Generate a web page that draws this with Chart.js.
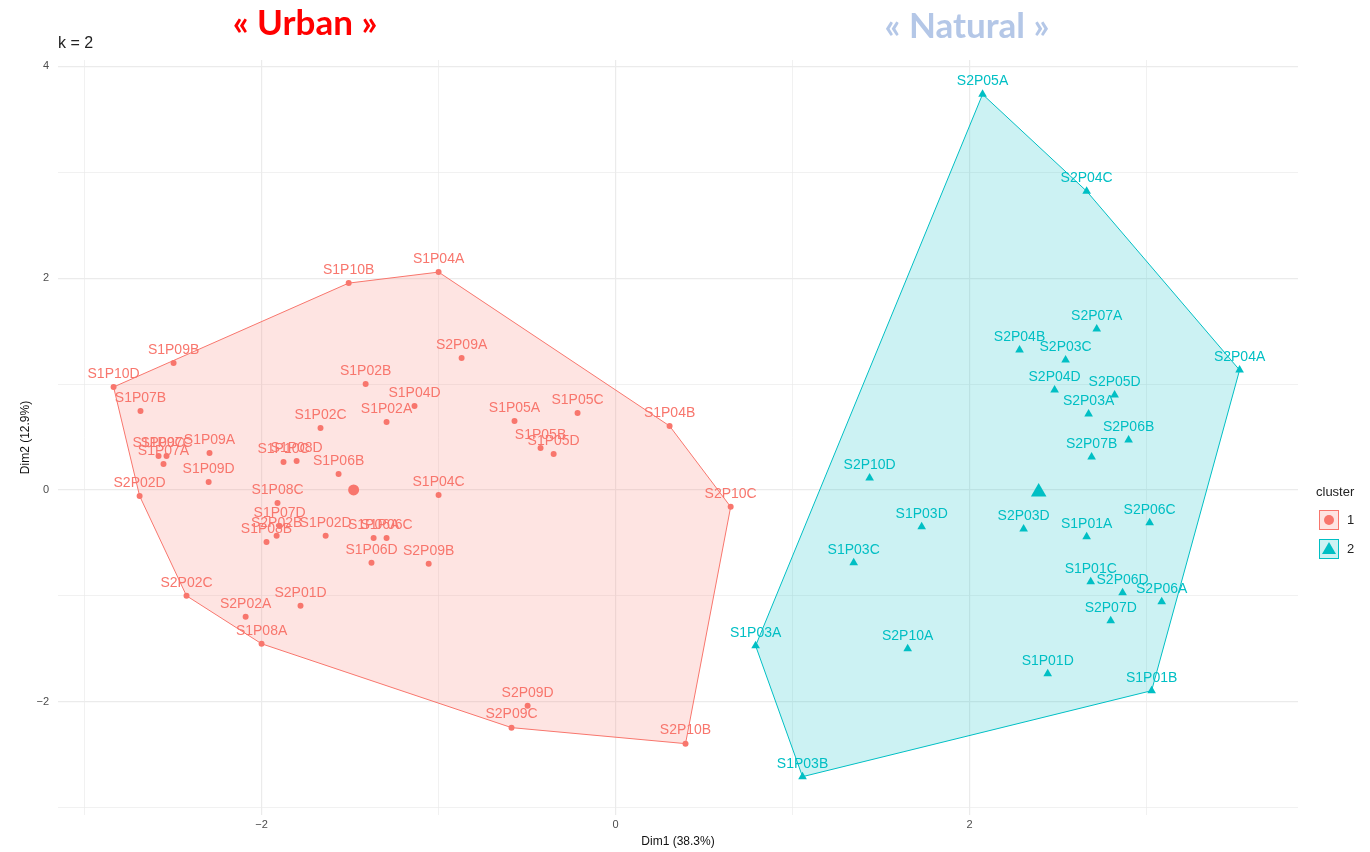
<!DOCTYPE html>
<html>
<head>
<meta charset="utf-8">
<script src="https://cdn.jsdelivr.net/npm/chart.js@4.4.1/dist/chart.umd.min.js"></script>
<style>
  html, body { margin: 0; padding: 0; background: #fff; }
</style>
</head>
<body>
<canvas id="myChart" width="1370" height="852"></canvas>
<script>
// clusters
const clusterNames = ['1', '2'];
const clusterColors = ['#F8766D', '#00BFC4'];
const clusterFills = ['rgba(248,118,109,0.2)', 'rgba(0,191,196,0.2)'];

// cluster 1 ("Urban")
const urbanLabels = ['S1P10D', 'S1P09B', 'S1P10B', 'S1P04A', 'S2P09A', 'S1P02B', 'S1P04D', 'S1P02A', 'S1P02C',
    'S1P05A', 'S1P05C', 'S1P05B', 'S1P05D', 'S1P04B', 'S2P10C', 'S1P07B', 'S1P09A', 'S1P09C', 'S1P07C',
    'S1P07A', 'S1P09D', 'S2P02D', 'S1P10C', 'S1P08D', 'S1P06B', 'S1P08C', 'S1P04C', 'S1P07D', 'S2P02B',
    'S1P08B', 'S1P02D', 'S1P06A', 'S1P06C', 'S1P06D', 'S2P09B', 'S2P02C', 'S2P02A', 'S2P01D', 'S1P08A',
    'S2P09D', 'S2P09C', 'S2P10B'];
const urbanX = [-2.836, -2.497, -1.508, -1.000, -0.870, -1.412, -1.136, -1.294, -1.667,
    -0.571, -0.215, -0.424, -0.350, 0.305, 0.650, -2.684, -2.294, -2.582, -2.537,
    -2.554, -2.299, -2.689, -1.876, -1.802, -1.565, -1.910, -1.000, -1.898, -1.915,
    -1.972, -1.638, -1.367, -1.294, -1.379, -1.056, -2.424, -2.090, -1.780, -2.000,
    -0.497, -0.588, 0.395];
const urbanY = [0.972, 1.198, 1.953, 2.057, 1.245, 1.000, 0.792, 0.642, 0.585,
    0.651, 0.726, 0.396, 0.340, 0.604, -0.160, 0.745, 0.349, 0.321, 0.321,
    0.245, 0.075, -0.057, 0.264, 0.274, 0.151, -0.123, -0.047, -0.340, -0.434,
    -0.491, -0.434, -0.453, -0.453, -0.689, -0.698, -1.000, -1.198, -1.094, -1.453,
    -2.038, -2.245, -2.396];

// cluster 2 ("Natural")
const naturalLabels = ['S2P05A', 'S2P04C', 'S2P04A', 'S2P07A', 'S2P03C', 'S2P04B', 'S2P04D', 'S2P05D', 'S2P03A',
    'S2P06B', 'S2P07B', 'S2P10D', 'S1P03D', 'S2P03D', 'S1P01A', 'S2P06C', 'S1P03C', 'S1P01C', 'S2P06D',
    'S2P06A', 'S2P07D', 'S1P03A', 'S2P10A', 'S1P01D', 'S1P01B', 'S1P03B'];
const naturalX = [2.073, 2.661, 3.525, 2.718, 2.542, 2.282, 2.480, 2.819, 2.672,
    2.898, 2.689, 1.435, 1.729, 2.305, 2.661, 3.017, 1.345, 2.684, 2.864,
    3.085, 2.797, 0.791, 1.650, 2.441, 3.028, 1.056];
const naturalY = [3.736, 2.821, 1.132, 1.519, 1.226, 1.321, 0.943, 0.896, 0.717,
    0.472, 0.311, 0.113, -0.349, -0.368, -0.443, -0.311, -0.689, -0.868, -0.972,
    -1.057, -1.236, -1.472, -1.500, -1.736, -1.896, -2.708];

// cluster centres
const centerX = [-1.48, 2.39];
const centerY = [0.0, -0.02];

// axes
const xLabelled = [-2, 0, 2];
const yLabelled = [-2, 0, 2, 4];

const toPoints = (xs, ys) => xs.map((x, i) => ({ x: x, y: ys[i] }));

const convexHull = (pts) => {
    const p = pts.slice().sort((a, b) => a.x - b.x || a.y - b.y);
    const cross = (o, a, b) => (a.x - o.x) * (b.y - o.y) - (a.y - o.y) * (b.x - o.x);
    const lower = [], upper = [];
    p.forEach(q => {
        while (lower.length >= 2 && cross(lower[lower.length - 2], lower[lower.length - 1], q) <= 0) lower.pop();
        lower.push(q);
    });
    p.slice().reverse().forEach(q => {
        while (upper.length >= 2 && cross(upper[upper.length - 2], upper[upper.length - 1], q) <= 0) upper.pop();
        upper.push(q);
    });
    lower.pop();
    upper.pop();
    const h = lower.concat(upper);
    h.push(h[0]);
    return h;
};

const urbanPts = toPoints(urbanX, urbanY);
const naturalPts = toPoints(naturalX, naturalY);
const pointLabels = [urbanLabels, naturalLabels];

const textFont = '"Liberation Sans", Arial, sans-serif';

// labels above each point
const labelPlugin = {
    id: 'pointLabels',
    afterDatasetsDraw(chart) {
        const ctx = chart.ctx;
        ctx.save();
        ctx.font = '14px ' + textFont;
        ctx.textAlign = 'center';
        ctx.textBaseline = 'middle';
        [0, 1].forEach(k => {
            const meta = chart.getDatasetMeta(k);
            ctx.fillStyle = clusterColors[k];
            meta.data.forEach((el, i) => {
                ctx.fillText(pointLabels[k][i], el.x, el.y - 13);
            });
        });
        ctx.restore();
    }
};

// titles and ggplot style legend
const decorPlugin = {
    id: 'decor',
    afterDraw(chart) {
        const ctx = chart.ctx;
        ctx.save();
        ctx.textBaseline = 'middle';
        ctx.textAlign = 'left';
        ctx.fillStyle = '#222';
        ctx.font = '16px ' + textFont;
        ctx.fillText('k = 2', 58, 44);

        ctx.textAlign = 'center';
        ctx.font = 'bold 35px Lato, "Open Sans", sans-serif';
        ctx.fillStyle = '#FF0000';
        ctx.fillText('\u00AB Urban \u00BB', 305, 24);
        ctx.fillStyle = '#B4C7E7';
        ctx.fillText('\u00AB Natural \u00BB', 967, 27);

        // legend
        ctx.textAlign = 'left';
        ctx.fillStyle = '#222';
        ctx.font = '13px ' + textFont;
        ctx.fillText('cluster', 1316, 492);
        clusterNames.forEach((name, k) => {
            const top = 510 + k * 29;
            ctx.fillStyle = clusterFills[k];
            ctx.fillRect(1319, top, 20, 20);
            ctx.strokeStyle = clusterColors[k];
            ctx.lineWidth = 1;
            ctx.strokeRect(1319.5, top + 0.5, 19, 19);
            ctx.fillStyle = clusterColors[k];
            ctx.beginPath();
            if (k === 0) {
                ctx.arc(1329, top + 10, 5, 0, Math.PI * 2);
            } else {
                ctx.moveTo(1329, top + 3);
                ctx.lineTo(1336, top + 15);
                ctx.lineTo(1322, top + 15);
                ctx.closePath();
            }
            ctx.fill();
            ctx.fillStyle = '#222';
            ctx.fillText(name, 1347, top + 10);
        });
        ctx.restore();
    }
};

const gridWidth = (c) => (c.tick && c.tick.value % 2 === 0 ? 1.2 : 0.7);

new Chart(document.getElementById('myChart'), {
    type: 'scatter',
    data: {
        datasets: [
            {
                data: urbanPts,
                pointStyle: 'circle',
                pointRadius: 3,
                backgroundColor: clusterColors[0],
                borderColor: clusterColors[0],
                borderWidth: 0,
                order: 1
            },
            {
                data: naturalPts,
                pointStyle: 'triangle',
                pointRadius: 5,
                backgroundColor: clusterColors[1],
                borderColor: clusterColors[1],
                borderWidth: 0,
                order: 1
            },
            {
                data: [{ x: centerX[0], y: centerY[0] }],
                pointStyle: 'circle',
                pointRadius: 5.5,
                backgroundColor: clusterColors[0],
                borderWidth: 0,
                order: 0
            },
            {
                data: [{ x: centerX[1], y: centerY[1] }],
                pointStyle: 'triangle',
                pointRadius: 9,
                backgroundColor: clusterColors[1],
                borderWidth: 0,
                order: 0
            },
            {
                data: convexHull(urbanPts),
                showLine: true,
                fill: 'shape',
                pointRadius: 0,
                borderColor: clusterColors[0],
                backgroundColor: clusterFills[0],
                borderWidth: 1,
                tension: 0,
                order: 2
            },
            {
                data: convexHull(naturalPts),
                showLine: true,
                fill: 'shape',
                pointRadius: 0,
                borderColor: clusterColors[1],
                backgroundColor: clusterFills[1],
                borderWidth: 1,
                tension: 0,
                order: 2
            }
        ]
    },
    options: {
        responsive: false,
        animation: false,
        layout: { padding: { top: 60, right: 72, left: 0, bottom: 0 } },
        plugins: {
            legend: { display: false },
            tooltip: { enabled: false }
        },
        scales: {
            x: {
                type: 'linear',
                min: -3.15,
                max: 3.855,
                afterFit: (s) => { s.height = 37; },
                border: { display: false },
                grid: { color: '#ebebeb', lineWidth: gridWidth, drawTicks: false },
                ticks: {
                    stepSize: 1,
                    includeBounds: false,
                    padding: 3,
                    color: '#4d4d4d',
                    font: { size: 11, family: textFont },
                    maxRotation: 0,
                    autoSkip: false,
                    callback: (v) => (xLabelled.includes(v) ? String(v).replace('-', '\u2212') : '')
                },
                title: {
                    display: true,
                    text: 'Dim1 (38.3%)',
                    color: '#111',
                    font: { size: 12, family: textFont },
                    padding: { top: 0, bottom: 3 }
                }
            },
            y: {
                type: 'linear',
                min: -3.07,
                max: 4.06,
                afterFit: (s) => { s.width = 58; },
                border: { display: false },
                grid: { color: '#ebebeb', lineWidth: gridWidth, drawTicks: false },
                ticks: {
                    stepSize: 1,
                    includeBounds: false,
                    padding: 9,
                    color: '#4d4d4d',
                    font: { size: 11, family: textFont },
                    autoSkip: false,
                    callback: (v) => (yLabelled.includes(v) ? String(v).replace('-', '\u2212') : '')
                },
                title: {
                    display: true,
                    text: 'Dim2 (12.9%)',
                    color: '#111',
                    font: { size: 12, family: textFont },
                    padding: { top: 18, bottom: 0 }
                }
            }
        }
    },
    plugins: [labelPlugin, decorPlugin]
});
</script>
</body>
</html>
